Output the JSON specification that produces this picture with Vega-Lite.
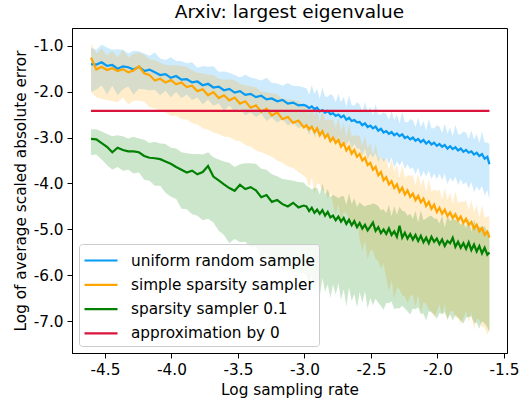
{
"$schema": "https://vega.github.io/schema/vega-lite/v6.json",
"width": 435, "height": 325,
"autosize": {"type": "none"},
"padding": {"left": 72, "top": 28, "right": 14, "bottom": 48},
"background": "white",
"title": {"text": "Arxiv: largest eigenvalue", "font": "DejaVu Sans", "fontSize": 18.5, "fontWeight": "normal", "color": "black", "anchor": "middle", "offset": 7},
"config": {
  "locale": {"number": {"decimal": ".", "thousands": ",", "grouping": [3], "currency": ["$", ""], "minus": "-"}},
  "view": {"stroke": "black", "strokeWidth": 1},
  "axis": {"grid": false, "domainColor": "black", "tickColor": "black", "labelColor": "black", "titleColor": "black", "labelFont": "DejaVu Sans", "titleFont": "DejaVu Sans", "labelFontSize": 15.3, "titleFontSize": 15.3, "titleFontWeight": "normal", "tickSize": 5, "labelPadding": 4, "labelFlush": false, "labelOverlap": false}
},
"datasets": {
"main": [
{"x":-4.605,"u":-1.40,"ul":-2.00,"uh":-1.05,"s":-1.26,"sl":-2.01,"sh":-0.96,"g":-3.03,"gl":-3.38,"gh":-2.82},
{"x":-4.565,"u":-1.41,"ul":-1.96,"uh":-1.09,"s":-1.52,"sl":-2.12,"sh":-1.17,"g":-3.04,"gl":-3.37,"gh":-2.82},
{"x":-4.525,"u":-1.36,"ul":-1.86,"uh":-0.98,"s":-1.46,"sl":-2.16,"sh":-1.06,"g":-3.12,"gl":-3.48,"gh":-2.87},
{"x":-4.485,"u":-1.44,"ul":-2.06,"uh":-1.04,"s":-1.53,"sl":-2.18,"sh":-1.21,"g":-3.20,"gl":-3.60,"gh":-2.92},
{"x":-4.445,"u":-1.42,"ul":-1.87,"uh":-1.09,"s":-1.49,"sl":-2.21,"sh":-1.11,"g":-3.32,"gl":-3.70,"gh":-2.97},
{"x":-4.405,"u":-1.50,"ul":-2.08,"uh":-1.08,"s":-1.55,"sl":-2.23,"sh":-1.25,"g":-3.22,"gl":-3.64,"gh":-2.95},
{"x":-4.365,"u":-1.45,"ul":-1.95,"uh":-1.09,"s":-1.51,"sl":-2.13,"sh":-1.09,"g":-3.27,"gl":-3.72,"gh":-2.97},
{"x":-4.325,"u":-1.47,"ul":-1.89,"uh":-1.17,"s":-1.58,"sl":-2.28,"sh":-1.25,"g":-3.30,"gl":-3.70,"gh":-3.02},
{"x":-4.285,"u":-1.52,"ul":-2.07,"uh":-1.11,"s":-1.54,"sl":-2.20,"sh":-1.18,"g":-3.30,"gl":-3.78,"gh":-2.98},
{"x":-4.245,"u":-1.46,"ul":-1.94,"uh":-1.12,"s":-1.45,"sl":-2.20,"sh":-1.15,"g":-3.32,"gl":-3.76,"gh":-3.02},
{"x":-4.205,"u":-1.55,"ul":-1.95,"uh":-1.17,"s":-1.60,"sl":-2.22,"sh":-1.20,"g":-3.40,"gl":-3.92,"gh":-3.05},
{"x":-4.165,"u":-1.52,"ul":-1.97,"uh":-1.22,"s":-1.64,"sl":-2.34,"sh":-1.30,"g":-3.44,"gl":-3.94,"gh":-3.12},
{"x":-4.125,"u":-1.58,"ul":-1.96,"uh":-1.15,"s":-1.76,"sl":-2.36,"sh":-1.31,"g":-3.45,"gl":-4.05,"gh":-3.09},
{"x":-4.085,"u":-1.64,"ul":-2.08,"uh":-1.28,"s":-1.72,"sl":-2.44,"sh":-1.37,"g":-3.47,"gl":-4.05,"gh":-3.13},
{"x":-4.045,"u":-1.62,"ul":-1.98,"uh":-1.31,"s":-1.80,"sl":-2.45,"sh":-1.42,"g":-3.52,"gl":-4.20,"gh":-3.14},
{"x":-4.005,"u":-1.70,"ul":-2.12,"uh":-1.25,"s":-1.75,"sl":-2.53,"sh":-1.43,"g":-3.57,"gl":-4.29,"gh":-3.22},
{"x":-3.965,"u":-1.66,"ul":-2.01,"uh":-1.33,"s":-1.84,"sl":-2.52,"sh":-1.42,"g":-3.64,"gl":-4.34,"gh":-3.24},
{"x":-3.925,"u":-1.74,"ul":-2.14,"uh":-1.34,"s":-1.80,"sl":-2.60,"sh":-1.44,"g":-3.70,"gl":-4.55,"gh":-3.32},
{"x":-3.885,"u":-1.73,"ul":-2.06,"uh":-1.38,"s":-1.90,"sl":-2.60,"sh":-1.46,"g":-3.76,"gl":-4.56,"gh":-3.34},
{"x":-3.845,"u":-1.80,"ul":-2.18,"uh":-1.36,"s":-1.87,"sl":-2.69,"sh":-1.54,"g":-3.72,"gl":-4.67,"gh":-3.36},
{"x":-3.805,"u":-1.78,"ul":-2.13,"uh":-1.48,"s":-1.99,"sl":-2.71,"sh":-1.59,"g":-3.80,"gl":-4.70,"gh":-3.36},
{"x":-3.765,"u":-1.86,"ul":-2.28,"uh":-1.44,"s":-1.95,"sl":-2.80,"sh":-1.60,"g":-3.75,"gl":-4.80,"gh":-3.37},
{"x":-3.725,"u":-1.83,"ul":-2.17,"uh":-1.46,"s":-2.08,"sl":-2.83,"sh":-1.63,"g":-3.62,"gl":-4.77,"gh":-3.32},
{"x":-3.685,"u":-1.91,"ul":-2.31,"uh":-1.45,"s":-2.01,"sl":-2.89,"sh":-1.64,"g":-3.85,"gl":-4.85,"gh":-3.43},
{"x":-3.645,"u":-1.89,"ul":-2.26,"uh":-1.57,"s":-2.14,"sl":-2.92,"sh":-1.72,"g":-3.93,"gl":-5.03,"gh":-3.48},
{"x":-3.605,"u":-1.97,"ul":-2.41,"uh":-1.56,"s":-2.08,"sl":-2.98,"sh":-1.74,"g":-4.02,"gl":-5.12,"gh":-3.52},
{"x":-3.565,"u":-1.94,"ul":-2.30,"uh":-1.59,"s":-2.19,"sl":-2.99,"sh":-1.73,"g":-4.10,"gl":-5.30,"gh":-3.55},
{"x":-3.525,"u":-2.02,"ul":-2.43,"uh":-1.64,"s":-2.13,"sl":-3.06,"sh":-1.75,"g":-4.16,"gl":-5.21,"gh":-3.64},
{"x":-3.485,"u":-1.99,"ul":-2.37,"uh":-1.69,"s":-2.26,"sl":-3.08,"sh":-1.83,"g":-4.03,"gl":-5.28,"gh":-3.58},
{"x":-3.445,"u":-2.07,"ul":-2.52,"uh":-1.63,"s":-2.21,"sl":-3.16,"sh":-1.86,"g":-4.12,"gl":-5.27,"gh":-3.56},
{"x":-3.405,"u":-2.05,"ul":-2.45,"uh":-1.69,"s":-2.35,"sl":-3.20,"sh":-1.88,"g":-4.08,"gl":-5.38,"gh":-3.56},
{"x":-3.365,"u":-2.12,"ul":-2.55,"uh":-1.72,"s":-2.30,"sl":-3.28,"sh":-1.91,"g":-4.15,"gl":-5.37,"gh":-3.57},
{"x":-3.325,"u":-2.09,"ul":-2.48,"uh":-1.76,"s":-2.44,"sl":-3.32,"sh":-2.00,"g":-4.30,"gl":-5.65,"gh":-3.68},
{"x":-3.285,"u":-2.17,"ul":-2.64,"uh":-1.70,"s":-2.37,"sl":-3.37,"sh":-2.01,"g":-4.25,"gl":-5.53,"gh":-3.70},
{"x":-3.245,"u":-2.15,"ul":-2.56,"uh":-1.81,"s":-2.52,"sl":-3.42,"sh":-2.04,"g":-4.40,"gl":-5.80,"gh":-3.80},
{"x":-3.205,"u":-2.21,"ul":-2.67,"uh":-1.82,"s":-2.45,"sl":-3.50,"sh":-2.05,"g":-4.36,"gl":-5.68,"gh":-3.84},
{"x":-3.165,"u":-2.18,"ul":-2.60,"uh":-1.87,"s":-2.60,"sl":-3.55,"sh":-2.15,"g":-4.45,"gl":-5.90,"gh":-3.90},
{"x":-3.125,"u":-2.26,"ul":-2.74,"uh":-1.81,"s":-2.55,"sl":-3.63,"sh":-2.17,"g":-4.50,"gl":-5.88,"gh":-3.92},
{"x":-3.085,"u":-2.24,"ul":-2.67,"uh":-1.88,"s":-2.68,"sl":-3.66,"sh":-2.18,"g":-4.42,"gl":-5.92,"gh":-3.94},
{"x":-3.045,"u":-2.30,"ul":-2.80,"uh":-1.88,"s":-2.63,"sl":-3.75,"sh":-2.21,"g":-4.52,"gl":-5.94,"gh":-3.97},
{"x":-3.005,"u":-2.29,"ul":-2.74,"uh":-1.91,"s":-2.78,"sl":-3.83,"sh":-2.32,"g":-4.48,"gl":-5.96,"gh":-3.98},
{"x":-2.985,"u":-2.31,"ul":-2.81,"uh":-1.93,"s":-2.73,"sl":-3.88,"sh":-2.33,"g":-4.50,"gl":-6.00,"gh":-4.05},
{"x":-2.965,"u":-2.36,"ul":-2.94,"uh":-2.06,"s":-2.82,"sl":-4.09,"sh":-2.50,"g":-4.60,"gl":-6.22,"gh":-4.08},
{"x":-2.945,"u":-2.32,"ul":-2.79,"uh":-1.86,"s":-2.76,"sl":-3.86,"sh":-2.28,"g":-4.53,"gl":-5.98,"gh":-4.13},
{"x":-2.925,"u":-2.38,"ul":-3.00,"uh":-2.05,"s":-2.88,"sl":-4.23,"sh":-2.53,"g":-4.64,"gl":-6.34,"gh":-4.09},
{"x":-2.905,"u":-2.35,"ul":-2.88,"uh":-1.94,"s":-2.80,"sl":-4.00,"sh":-2.36,"g":-4.57,"gl":-6.12,"gh":-4.09},
{"x":-2.885,"u":-2.43,"ul":-2.99,"uh":-2.15,"s":-2.95,"sl":-4.02,"sh":-2.65,"g":-4.66,"gl":-6.46,"gh":-4.24},
{"x":-2.865,"u":-2.40,"ul":-2.89,"uh":-1.91,"s":-2.86,"sl":-4.16,"sh":-2.36,"g":-4.58,"gl":-6.06,"gh":-4.00},
{"x":-2.845,"u":-2.46,"ul":-3.06,"uh":-2.11,"s":-3.00,"sl":-4.17,"sh":-2.63,"g":-4.70,"gl":-6.35,"gh":-4.24},
{"x":-2.825,"u":-2.42,"ul":-2.94,"uh":-2.11,"s":-2.93,"sl":-4.33,"sh":-2.60,"g":-4.62,"gl":-6.20,"gh":-4.12},
{"x":-2.805,"u":-2.49,"ul":-3.06,"uh":-2.05,"s":-3.08,"sl":-4.20,"sh":-2.62,"g":-4.74,"gl":-6.49,"gh":-4.30},
{"x":-2.785,"u":-2.47,"ul":-2.97,"uh":-2.09,"s":-3.00,"sl":-4.45,"sh":-2.60,"g":-4.70,"gl":-6.20,"gh":-4.25},
{"x":-2.765,"u":-2.53,"ul":-3.11,"uh":-2.23,"s":-3.12,"sl":-4.69,"sh":-2.80,"g":-4.80,"gl":-6.42,"gh":-4.28},
{"x":-2.745,"u":-2.50,"ul":-2.97,"uh":-2.04,"s":-3.05,"sl":-4.45,"sh":-2.57,"g":-4.72,"gl":-6.17,"gh":-4.32},
{"x":-2.725,"u":-2.56,"ul":-3.18,"uh":-2.23,"s":-3.20,"sl":-4.85,"sh":-2.85,"g":-4.83,"gl":-6.53,"gh":-4.28},
{"x":-2.705,"u":-2.52,"ul":-3.05,"uh":-2.11,"s":-3.12,"sl":-4.62,"sh":-2.68,"g":-4.75,"gl":-6.30,"gh":-4.27},
{"x":-2.685,"u":-2.61,"ul":-3.17,"uh":-2.33,"s":-3.28,"sl":-4.65,"sh":-2.98,"g":-4.88,"gl":-6.68,"gh":-4.46},
{"x":-2.665,"u":-2.57,"ul":-3.06,"uh":-2.08,"s":-3.20,"sl":-4.80,"sh":-2.70,"g":-4.79,"gl":-6.27,"gh":-4.21},
{"x":-2.645,"u":-2.64,"ul":-3.24,"uh":-2.29,"s":-3.35,"sl":-4.82,"sh":-2.98,"g":-4.91,"gl":-6.56,"gh":-4.45},
{"x":-2.625,"u":-2.62,"ul":-3.14,"uh":-2.31,"s":-3.27,"sl":-4.97,"sh":-2.94,"g":-4.82,"gl":-6.40,"gh":-4.32},
{"x":-2.605,"u":-2.67,"ul":-3.24,"uh":-2.23,"s":-3.42,"sl":-4.84,"sh":-2.96,"g":-4.95,"gl":-6.70,"gh":-4.51},
{"x":-2.585,"u":-2.66,"ul":-3.24,"uh":-2.28,"s":-3.36,"sl":-5.21,"sh":-2.96,"g":-4.86,"gl":-6.36,"gh":-4.41},
{"x":-2.565,"u":-2.73,"ul":-3.39,"uh":-2.43,"s":-3.50,"sl":-5.47,"sh":-3.18,"g":-4.98,"gl":-6.60,"gh":-4.46},
{"x":-2.545,"u":-2.69,"ul":-3.24,"uh":-2.23,"s":-3.44,"sl":-5.24,"sh":-2.96,"g":-4.90,"gl":-6.35,"gh":-4.50},
{"x":-2.525,"u":-2.77,"ul":-3.47,"uh":-2.44,"s":-3.60,"sl":-5.65,"sh":-3.25,"g":-5.02,"gl":-6.72,"gh":-4.47},
{"x":-2.505,"u":-2.74,"ul":-3.35,"uh":-2.33,"s":-3.55,"sl":-5.45,"sh":-3.11,"g":-4.94,"gl":-6.49,"gh":-4.46},
{"x":-2.485,"u":-2.80,"ul":-3.44,"uh":-2.52,"s":-3.70,"sl":-5.47,"sh":-3.40,"g":-4.85,"gl":-6.65,"gh":-4.43},
{"x":-2.465,"u":-2.76,"ul":-3.33,"uh":-2.27,"s":-3.64,"sl":-5.64,"sh":-3.14,"g":-5.03,"gl":-6.51,"gh":-4.45},
{"x":-2.445,"u":-2.85,"ul":-3.53,"uh":-2.50,"s":-3.82,"sl":-5.69,"sh":-3.45,"g":-4.95,"gl":-6.60,"gh":-4.49},
{"x":-2.425,"u":-2.81,"ul":-3.41,"uh":-2.50,"s":-3.75,"sl":-5.85,"sh":-3.42,"g":-5.08,"gl":-6.66,"gh":-4.58},
{"x":-2.405,"u":-2.89,"ul":-3.54,"uh":-2.45,"s":-3.93,"sl":-5.75,"sh":-3.47,"g":-5.00,"gl":-6.75,"gh":-4.56},
{"x":-2.385,"u":-2.86,"ul":-3.44,"uh":-2.48,"s":-3.86,"sl":-6.06,"sh":-3.46,"g":-5.10,"gl":-6.60,"gh":-4.65},
{"x":-2.365,"u":-2.92,"ul":-3.58,"uh":-2.62,"s":-4.02,"sl":-6.34,"sh":-3.70,"g":-4.98,"gl":-6.60,"gh":-4.46},
{"x":-2.345,"u":-2.88,"ul":-3.43,"uh":-2.42,"s":-3.95,"sl":-6.10,"sh":-3.47,"g":-5.12,"gl":-6.57,"gh":-4.72},
{"x":-2.325,"u":-2.95,"ul":-3.65,"uh":-2.62,"s":-4.10,"sl":-6.50,"sh":-3.75,"g":-5.04,"gl":-6.74,"gh":-4.49},
{"x":-2.305,"u":-2.91,"ul":-3.52,"uh":-2.50,"s":-4.02,"sl":-6.27,"sh":-3.58,"g":-5.16,"gl":-6.71,"gh":-4.68},
{"x":-2.285,"u":-2.97,"ul":-3.61,"uh":-2.69,"s":-4.18,"sl":-6.30,"sh":-3.88,"g":-4.92,"gl":-6.72,"gh":-4.50},
{"x":-2.265,"u":-2.93,"ul":-3.50,"uh":-2.44,"s":-4.09,"sl":-6.44,"sh":-3.59,"g":-5.18,"gl":-6.66,"gh":-4.60},
{"x":-2.245,"u":-3.01,"ul":-3.69,"uh":-2.66,"s":-4.24,"sl":-6.46,"sh":-3.87,"g":-5.07,"gl":-6.72,"gh":-4.61},
{"x":-2.225,"u":-2.98,"ul":-3.58,"uh":-2.67,"s":-4.15,"sl":-6.60,"sh":-3.82,"g":-5.20,"gl":-6.78,"gh":-4.70},
{"x":-2.205,"u":-3.04,"ul":-3.69,"uh":-2.60,"s":-4.29,"sl":-6.46,"sh":-3.83,"g":-5.10,"gl":-6.85,"gh":-4.66},
{"x":-2.185,"u":-3.00,"ul":-3.65,"uh":-2.62,"s":-4.22,"sl":-6.42,"sh":-3.82,"g":-5.22,"gl":-6.72,"gh":-4.77},
{"x":-2.165,"u":-3.07,"ul":-3.80,"uh":-2.77,"s":-4.36,"sl":-6.68,"sh":-4.04,"g":-5.12,"gl":-6.74,"gh":-4.60},
{"x":-2.145,"u":-3.03,"ul":-3.65,"uh":-2.57,"s":-4.27,"sl":-6.42,"sh":-3.79,"g":-5.25,"gl":-6.70,"gh":-4.85},
{"x":-2.125,"u":-3.10,"ul":-3.87,"uh":-2.77,"s":-4.41,"sl":-6.81,"sh":-4.06,"g":-5.14,"gl":-6.84,"gh":-4.59},
{"x":-2.105,"u":-3.05,"ul":-3.73,"uh":-2.64,"s":-4.33,"sl":-6.58,"sh":-3.89,"g":-5.28,"gl":-6.83,"gh":-4.80},
{"x":-2.085,"u":-3.13,"ul":-3.84,"uh":-2.85,"s":-4.49,"sl":-6.61,"sh":-4.19,"g":-5.18,"gl":-6.98,"gh":-4.76},
{"x":-2.065,"u":-3.08,"ul":-3.72,"uh":-2.59,"s":-4.40,"sl":-6.75,"sh":-3.90,"g":-5.30,"gl":-6.78,"gh":-4.72},
{"x":-2.045,"u":-3.15,"ul":-3.90,"uh":-2.80,"s":-4.55,"sl":-6.77,"sh":-4.18,"g":-5.16,"gl":-6.81,"gh":-4.70},
{"x":-2.025,"u":-3.11,"ul":-3.78,"uh":-2.80,"s":-4.46,"sl":-6.91,"sh":-4.13,"g":-5.27,"gl":-6.85,"gh":-4.77},
{"x":-2.005,"u":-3.18,"ul":-3.90,"uh":-2.74,"s":-4.62,"sl":-6.79,"sh":-4.16,"g":-5.20,"gl":-6.95,"gh":-4.76},
{"x":-1.985,"u":-3.14,"ul":-3.79,"uh":-2.76,"s":-4.53,"sl":-6.63,"sh":-4.13,"g":-5.32,"gl":-6.82,"gh":-4.87},
{"x":-1.965,"u":-3.20,"ul":-3.93,"uh":-2.90,"s":-4.66,"sl":-6.88,"sh":-4.34,"g":-5.22,"gl":-6.84,"gh":-4.70},
{"x":-1.945,"u":-3.16,"ul":-3.78,"uh":-2.70,"s":-4.57,"sl":-6.62,"sh":-4.09,"g":-5.36,"gl":-6.81,"gh":-4.96},
{"x":-1.925,"u":-3.24,"ul":-4.01,"uh":-2.91,"s":-4.71,"sl":-7.01,"sh":-4.36,"g":-5.25,"gl":-6.95,"gh":-4.70},
{"x":-1.905,"u":-3.19,"ul":-3.87,"uh":-2.78,"s":-4.63,"sl":-6.78,"sh":-4.19,"g":-5.30,"gl":-6.85,"gh":-4.82},
{"x":-1.885,"u":-3.25,"ul":-3.96,"uh":-2.97,"s":-4.75,"sl":-6.77,"sh":-4.45,"g":-5.18,"gl":-6.98,"gh":-4.76},
{"x":-1.865,"u":-3.21,"ul":-3.85,"uh":-2.72,"s":-4.67,"sl":-6.92,"sh":-4.17,"g":-5.38,"gl":-6.86,"gh":-4.80},
{"x":-1.845,"u":-3.28,"ul":-4.03,"uh":-2.93,"s":-4.80,"sl":-6.92,"sh":-4.43,"g":-5.27,"gl":-6.92,"gh":-4.81},
{"x":-1.825,"u":-3.24,"ul":-3.91,"uh":-2.93,"s":-4.72,"sl":-7.07,"sh":-4.39,"g":-5.40,"gl":-6.98,"gh":-4.90},
{"x":-1.805,"u":-3.31,"ul":-4.03,"uh":-2.87,"s":-4.86,"sl":-6.93,"sh":-4.40,"g":-5.30,"gl":-7.05,"gh":-4.86},
{"x":-1.785,"u":-3.27,"ul":-3.97,"uh":-2.89,"s":-4.77,"sl":-6.77,"sh":-4.37,"g":-5.42,"gl":-6.92,"gh":-4.97},
{"x":-1.765,"u":-3.33,"ul":-4.11,"uh":-3.03,"s":-4.90,"sl":-7.02,"sh":-4.58,"g":-5.28,"gl":-6.90,"gh":-4.76},
{"x":-1.745,"u":-3.30,"ul":-3.97,"uh":-2.84,"s":-4.84,"sl":-6.79,"sh":-4.36,"g":-5.45,"gl":-6.90,"gh":-5.05},
{"x":-1.725,"u":-3.37,"ul":-4.19,"uh":-3.04,"s":-4.98,"sl":-7.18,"sh":-4.63,"g":-5.33,"gl":-7.03,"gh":-4.78},
{"x":-1.705,"u":-3.33,"ul":-4.06,"uh":-2.92,"s":-4.90,"sl":-6.95,"sh":-4.46,"g":-5.48,"gl":-7.03,"gh":-5.00},
{"x":-1.685,"u":-3.40,"ul":-4.16,"uh":-3.12,"s":-5.04,"sl":-6.96,"sh":-4.74,"g":-5.36,"gl":-7.16,"gh":-4.94},
{"x":-1.665,"u":-3.36,"ul":-4.05,"uh":-2.87,"s":-4.97,"sl":-7.12,"sh":-4.47,"g":-5.52,"gl":-7.00,"gh":-4.94},
{"x":-1.645,"u":-3.46,"ul":-4.26,"uh":-3.11,"s":-5.12,"sl":-7.14,"sh":-4.75,"g":-5.40,"gl":-7.05,"gh":-4.94},
{"x":-1.625,"u":-3.42,"ul":-4.14,"uh":-3.11,"s":-5.05,"sl":-7.30,"sh":-4.72,"g":-5.55,"gl":-7.13,"gh":-5.05},
{"x":-1.609,"u":-3.58,"ul":-4.35,"uh":-3.14,"s":-5.18,"sl":-7.15,"sh":-4.72,"g":-5.50,"gl":-7.25,"gh":-5.06}
],
"zero": [
{"x":-4.605,"y":-2.42},
{"x":-1.609,"y":-2.42}
]
},
"data": {"name": "main"},
"encoding": {
  "x": {"field": "x", "type": "quantitative", "title": "Log sampling rate",
    "scale": {"domain": [-4.748, -1.477], "nice": false, "zero": false},
    "axis": {"values": [-4.5, -4.0, -3.5, -3.0, -2.5, -2.0, -1.5], "format": ".1f", "titlePadding": 5}}
},
"layer": [
  {"mark": {"type": "area", "color": "#069AF3", "opacity": 0.2},
   "encoding": {
     "y": {"field": "ul", "type": "quantitative", "title": "Log of average scaled absolute error",
       "scale": {"domain": [-7.69, -0.615], "nice": false, "zero": false},
       "axis": {"values": [-7, -6, -5, -4, -3, -2, -1], "format": ".1f", "titlePadding": 5}},
     "y2": {"field": "uh"}}},
  {"mark": {"type": "area", "color": "#FFA500", "opacity": 0.2},
   "encoding": {
     "y": {"field": "sl", "type": "quantitative", "title": "Log of average scaled absolute error"},
     "y2": {"field": "sh"}}},
  {"mark": {"type": "area", "color": "#008000", "opacity": 0.2},
   "encoding": {
     "y": {"field": "gl", "type": "quantitative", "title": "Log of average scaled absolute error"},
     "y2": {"field": "gh"}}},
  {"mark": {"type": "line", "strokeWidth": 2.2},
   "encoding": {
     "y": {"field": "u", "type": "quantitative", "title": "Log of average scaled absolute error"},
     "color": {"datum": "uniform random sample", "type": "nominal",
       "scale": {"domain": ["uniform random sample", "simple sparsity sampler", "sparsity sampler 0.1", "approximation by 0"],
                 "range": ["#069AF3", "#FFA500", "#008000", "#DC143C"]},
       "legend": {"title": null, "orient": "bottom-left", "offset": 7, "padding": 4,
         "symbolType": "M-1,0H2", "symbolSize": 484, "symbolStrokeWidth": 2.2,
         "labelFont": "DejaVu Sans", "labelFontSize": 15.3, "labelColor": "black", "labelOffset": 23, "labelLimit": 400, "rowPadding": 3.3,
         "fillColor": "rgba(255,255,255,0.8)", "strokeColor": "#cccccc", "cornerRadius": 3}}}},
  {"mark": {"type": "line", "strokeWidth": 2.2},
   "encoding": {
     "y": {"field": "s", "type": "quantitative", "title": "Log of average scaled absolute error"},
     "color": {"datum": "simple sparsity sampler", "type": "nominal"}}},
  {"mark": {"type": "line", "strokeWidth": 2.2},
   "encoding": {
     "y": {"field": "g", "type": "quantitative", "title": "Log of average scaled absolute error"},
     "color": {"datum": "sparsity sampler 0.1", "type": "nominal"}}},
  {"data": {"name": "zero"},
   "mark": {"type": "line", "strokeWidth": 2.2},
   "encoding": {
     "y": {"field": "y", "type": "quantitative", "title": "Log of average scaled absolute error"},
     "color": {"datum": "approximation by 0", "type": "nominal"}}}
]
}
